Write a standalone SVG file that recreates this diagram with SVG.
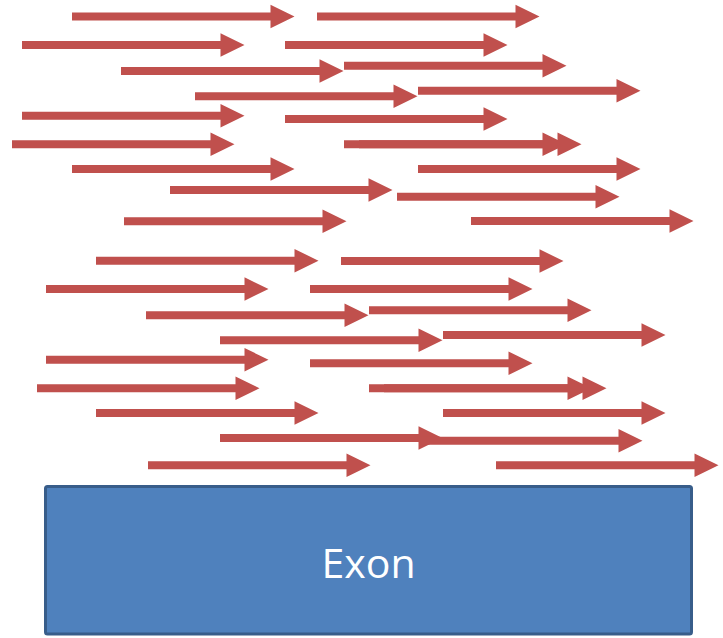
<svg xmlns="http://www.w3.org/2000/svg" xmlns:xlink="http://www.w3.org/1999/xlink" width="723" height="638" viewBox="0 0 723 638">
<style>
.read{fill:#C0504D}
.exon-box{fill:#4F81BD;stroke:#385D8A;stroke-width:3}
.exon-label{font-family:"Open Sans","Noto Sans","Liberation Sans",sans-serif;font-size:41px;fill:#FFFFFF}
</style>
<defs>
<polygon id="read" points="0,-4 198.5,-4 198.5,-11.7 222.5,0 198.5,11.7 198.5,4 0,4"/>
</defs>
<rect width="723" height="638" fill="#FFFFFF"/>
<g id="reads" class="read">
<use xlink:href="#read" href="#read" x="72" y="16.5"/>
<use xlink:href="#read" href="#read" x="317" y="16.5"/>
<use xlink:href="#read" href="#read" x="22" y="45"/>
<use xlink:href="#read" href="#read" x="285" y="45"/>
<use xlink:href="#read" href="#read" x="344" y="65.7"/>
<use xlink:href="#read" href="#read" x="121" y="71"/>
<use xlink:href="#read" href="#read" x="418" y="90.7"/>
<use xlink:href="#read" href="#read" x="195" y="96.3"/>
<use xlink:href="#read" href="#read" x="22" y="115.7"/>
<use xlink:href="#read" href="#read" x="285" y="119"/>
<use xlink:href="#read" href="#read" x="12" y="144.3"/>
<use xlink:href="#read" href="#read" x="344" y="144.3"/>
<use xlink:href="#read" href="#read" x="359" y="144.3"/>
<use xlink:href="#read" href="#read" x="72" y="169"/>
<use xlink:href="#read" href="#read" x="418" y="169"/>
<use xlink:href="#read" href="#read" x="170" y="190"/>
<use xlink:href="#read" href="#read" x="397" y="196.7"/>
<use xlink:href="#read" href="#read" x="124" y="221.3"/>
<use xlink:href="#read" href="#read" x="471" y="221"/>
<use xlink:href="#read" href="#read" x="96" y="260.7"/>
<use xlink:href="#read" href="#read" x="341" y="261"/>
<use xlink:href="#read" href="#read" x="46" y="289"/>
<use xlink:href="#read" href="#read" x="310" y="289"/>
<use xlink:href="#read" href="#read" x="369" y="310.3"/>
<use xlink:href="#read" href="#read" x="146" y="315.3"/>
<use xlink:href="#read" href="#read" x="220" y="340.3"/>
<use xlink:href="#read" href="#read" x="443" y="335"/>
<use xlink:href="#read" href="#read" x="46" y="359.7"/>
<use xlink:href="#read" href="#read" x="310" y="363.3"/>
<use xlink:href="#read" href="#read" x="37" y="388.3"/>
<use xlink:href="#read" href="#read" x="369" y="388.3"/>
<use xlink:href="#read" href="#read" x="384" y="388.3"/>
<use xlink:href="#read" href="#read" x="96" y="413"/>
<use xlink:href="#read" href="#read" x="443" y="413"/>
<use xlink:href="#read" href="#read" x="220" y="438"/>
<use xlink:href="#read" href="#read" x="420" y="440.7"/>
<use xlink:href="#read" href="#read" x="148" y="465.3"/>
<use xlink:href="#read" href="#read" x="496" y="465.3"/>
</g>
<g id="exon">
<rect class="exon-box" x="45.5" y="486.5" width="646" height="147.5" rx="2"/>
<text class="exon-label" x="368.5" y="578" text-anchor="middle">Exon</text>
</g>
</svg>
